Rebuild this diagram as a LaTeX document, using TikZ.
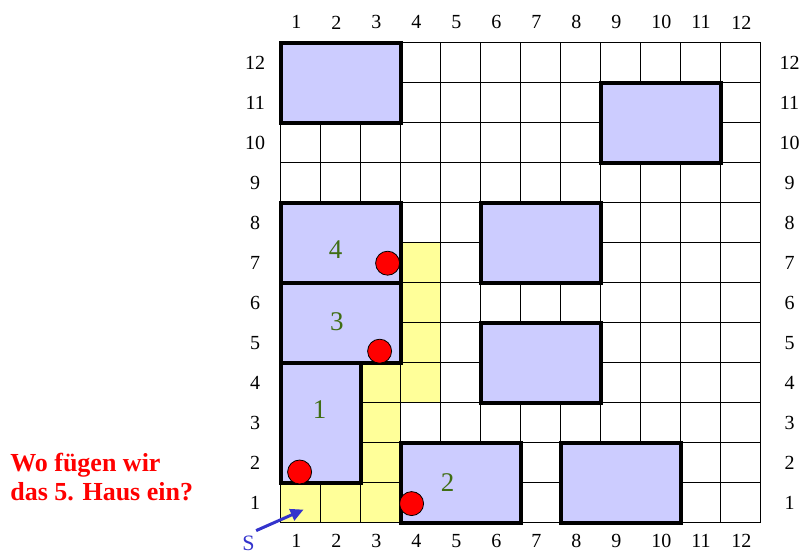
\documentclass[tikz,border=0pt]{standalone}
\usepackage{fontspec}
\setmainfont{Liberation Serif}
\usetikzlibrary{arrows.meta}
\definecolor{housefill}{RGB}{204,204,255}
\definecolor{pathfill}{RGB}{255,255,153}
\definecolor{numgreen}{RGB}{64,110,20}
\definecolor{sblue}{RGB}{51,51,204}
\begin{document}
\begin{tikzpicture}[x=40pt, y=40pt, line width=1.2pt,
    house/.style={draw=black, fill=housefill, line width=4pt},
    dot/.style={draw=black, fill=red, line width=0.8pt},
    lbl/.style={font=\fontsize{20}{24}\selectfont},
    hnum/.style={text=numgreen, font=\fontsize{27}{32}\selectfont},
    question/.style={text=red, anchor=base west, font=\bfseries\fontsize{26}{29}\selectfont}]
    \useasboundingbox (-7.02,-0.78) rectangle (13.03,13.07);
    \fill[pathfill] (0,0) rectangle (3,1);
    \fill[pathfill] (2,1) rectangle (3,4);
    \fill[pathfill] (3,3) rectangle (4,7);
    \draw[step=40pt] (0,0) grid (12,12);
    \foreach \i in {1,...,12} {
        \node[lbl, anchor=west, inner sep=0pt] (top\i) at (\i-0.75,12.51) {\i};
        \node[lbl, anchor=west, inner sep=0pt] (bot\i) at (\i-0.75,-0.46) {\i};
        \node[lbl] (left\i) at (-0.64,\i-0.5) {\i};
        \node[lbl] (right\i) at (12.72,\i-0.5) {\i};
    }
    \draw[house] (0,10) rectangle (3,12);
    \draw[house] (8,9) rectangle (11,11);
    \draw[house] (0,6) rectangle (3,8);
    \draw[house] (0,4) rectangle (3,6);
    \draw[house] (0,1) rectangle (2,4);
    \draw[house] (3,0) rectangle (6,2);
    \draw[house] (5,6) rectangle (8,8);
    \draw[house] (5,3) rectangle (8,5);
    \draw[house] (7,0) rectangle (10,2);
    \node[hnum] (n4) at (1.37,6.82) {4};
    \node[hnum] (n3) at (1.4,5.03) {3};
    \node[hnum] (n1) at (0.97,2.82) {1};
    \node[hnum] (n2) at (4.17,1.0) {2};
    \draw[dot] (0.47,1.27) circle (0.3);
    \draw[dot] (3.27,0.48) circle (0.3);
    \draw[dot] (2.47,4.29) circle (0.3);
    \draw[dot] (2.67,6.49) circle (0.3);
    \node[question] (q1) at (-6.86,1.29) {Wo fügen wir};
    \node[question] (q2) at (-6.86,0.57) {das 5. Haus ein?};
    \node[text=sblue, font=\fontsize{22}{26}\selectfont, inner sep=1pt] (s) at (-0.81,-0.52) {S};
    \coordinate (stip) at (0.57,0.33);
    \draw[sblue, line width=3pt, -{Triangle[length=13pt,width=12pt]}] ([yshift=4pt]s.north east) -- (stip);
\end{tikzpicture}
\end{document}
